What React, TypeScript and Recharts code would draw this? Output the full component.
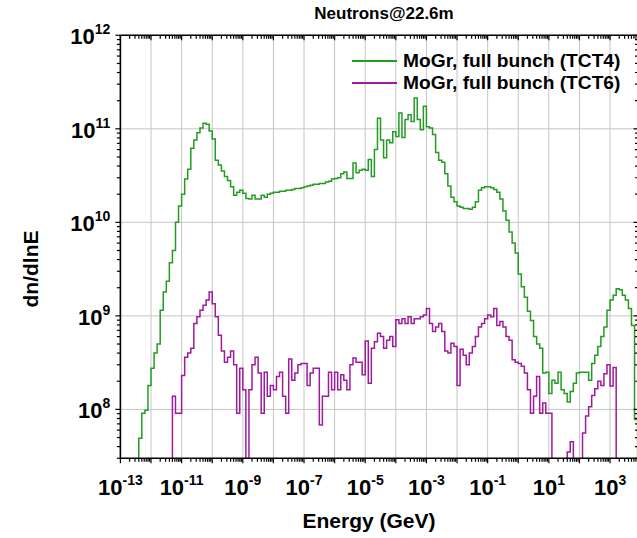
import { CartesianGrid, Legend, Line, LineChart, XAxis, YAxis } from "recharts";

// histogram binning: 10 bins per decade, edges on 0.1 steps of log10(E)
const BINS_PER_DECADE = 10;
const FIRST_EDGE = -13;
const LAST_EDGE = 4;

// MoGr, full bunch (TCT4): dn/dlnE per bin, first bin starts at 10^-12.4 GeV
const TCT4_START = -12.4;
const tct4 = [
  4.9e7, 9.1e7, 9.8e7, 1.8e8, 2.75e8, 4.0e8, 5.0e8, 1.15e9, 1.8e9, 2.35e9,
  3.7e9, 5.0e9, 1.0e10, 1.5e10, 2.0e10, 2.9e10, 3.7e10, 6.2e10, 7.6e10, 9.1e10,
  1.02e11, 1.15e11, 1.12e11, 9.5e10, 7.8e10, 4.6e10, 4.1e10, 3.55e10, 3.1e10, 2.8e10,
  2.4e10, 1.95e10, 2.1e10, 2.2e10, 2.05e10, 1.8e10, 1.78e10, 1.95e10, 1.78e10, 1.78e10,
  1.95e10, 1.86e10, 2.0e10, 2.05e10, 2.1e10, 2.1e10, 2.15e10, 2.15e10, 2.2e10, 2.2e10,
  2.25e10, 2.3e10, 2.3e10, 2.35e10, 2.4e10, 2.45e10, 2.5e10, 2.55e10, 2.55e10, 2.6e10,
  2.6e10, 2.7e10, 2.75e10, 2.9e10, 2.95e10, 3.0e10, 3.3e10, 3.45e10, 2.95e10, 2.95e10,
  4.3e10, 3.4e10, 3.6e10, 3.7e10, 3.6e10, 4.7e10, 3.1e10, 6.0e10, 1.3e11, 7.6e10,
  4.9e10, 7.6e10, 7.1e10, 9.3e10, 8.3e10, 1.48e11, 8.1e10, 1.26e11, 1.41e11, 1.2e11,
  2.14e11, 1.26e11, 9.8e10, 1.74e11, 1.05e11, 1.02e11, 8.7e10, 5.6e10, 4.6e10, 4.4e10,
  3.3e10, 2.45e10, 1.86e10, 1.66e10, 1.5e10, 1.45e10, 1.41e10, 1.41e10, 1.38e10, 1.45e10,
  1.66e10, 2.2e10, 2.35e10, 2.4e10, 2.4e10, 2.35e10, 2.25e10, 2.1e10, 1.78e10, 1.32e10,
  1.05e10, 7.9e9, 6.0e9, 4.7e9, 2.8e9, 2.05e9, 1.58e9, 1.12e9, 8.9e8, 6.0e8,
  5.0e8, 4.5e8, 2.45e8, 2.5e8, 1.48e8, 2.05e8, 1.9e8, 2.5e8, 1.62e8, 1.48e8,
  1.2e8, 1.55e8, 1.9e8, 2.45e8, 2.5e8, 2.5e8, 2.5e8, 2.05e8, 3.1e8, 3.8e8,
  4.7e8, 6.0e8, 7.6e8, 1.15e9, 1.48e9, 1.66e9, 1.95e9, 1.9e9, 1.66e9, 1.48e9,
  1.2e9, 7.9e8, 7.8e7,
];

// MoGr, full bunch (TCT6): first bin starts at 10^-11.3 GeV, 0 = empty bin
const TCT6_START = -11.3;
const tct6 = [
  1.38e8, 9.1e7, 9.1e7, 2.3e8, 3.6e8, 4.0e8, 4.5e8, 8.3e8, 9.8e8, 1.15e9,
  1.3e9, 1.48e9, 1.8e9, 1.35e9, 9.8e8, 6.2e8, 4.2e8, 3.2e8, 3.6e8, 4.2e8,
  3.0e8, 9.1e7, 2.75e8, 1.62e8, 0, 1.62e8, 3.0e8, 3.6e8, 2.45e8, 9.1e7,
  2.5e8, 1.38e8, 1.8e8, 1.62e8, 2.25e8, 2.5e8, 1.38e8, 9.1e7, 3.45e8, 2.05e8,
  2.45e8, 3.0e8, 3.1e8, 3.1e8, 1.8e8, 2.45e8, 2.75e8, 2.75e8, 6.8e7, 1.38e8,
  1.38e8, 2.5e8, 1.62e8, 2.5e8, 1.62e8, 2.35e8, 2.05e8, 1.62e8, 3.0e8, 3.55e8,
  3.2e8, 3.2e8, 2.35e8, 5.4e8, 1.9e8, 4.5e8, 5.3e8, 6.5e8, 6.0e8, 4.5e8,
  5.5e8, 6.0e8, 4.7e8, 9.1e8, 8.3e8, 9.3e8, 8.3e8, 9.8e8, 8.3e8, 9.3e8,
  9.3e8, 9.8e8, 1.02e9, 1.2e9, 8.3e8, 6.8e8, 7.6e8, 8.3e8, 6.8e8, 4.2e8,
  4.0e8, 5.1e8, 4.7e8, 1.8e8, 4.4e8, 3.8e8, 3.0e8, 4.0e8, 4.7e8, 6.0e8,
  7.6e8, 8.3e8, 9.3e8, 1.02e9, 9.8e8, 1.2e9, 7.9e8, 8.7e8, 7.6e8, 6.0e8,
  5.5e8, 3.4e8, 3.2e8, 3.1e8, 2.9e8, 2.45e8, 1.62e8, 9.1e7, 1.38e8, 2.25e8,
  9.1e7, 1.17e8, 9.1e7, 9.1e7, 0, 0, 0, 0, 0, 3.5e7,
  4.5e7, 0, 0, 0, 5.6e7, 8.5e7, 1.07e8, 1.41e8, 1.66e8, 2.0e8,
  1.8e8, 2.4e8, 3.0e8, 1.78e8, 2.8e8,
];

const xMajorTicks = [
  1e-13, 1e-12, 1e-11, 1e-10, 1e-9, 1e-8, 1e-7, 1e-6, 1e-5, 1e-4, 1e-3, 1e-2,
  1e-1, 1, 1e1, 1e2, 1e3,
];
const xLabelExps = [-13, -11, -9, -7, -5, -3, -1, 1, 3];
const yMajorTicks = [1e8, 1e9, 1e10, 1e11, 1e12];
const yLabelExps = [8, 9, 10, 11, 12];
const minorMults = [2, 3, 4, 5, 6, 7, 8, 9];

const X_DOMAIN: [number, number] = [1e-13, 8500];
const Y_DOMAIN: [number, number] = [3e7, 1e12];
const EMPTY = 1; // far below the y range, drawn as a drop to the axis

const xAllTicks = xMajorTicks
  .flatMap((d) => [d, ...minorMults.map((m) => m * d)])
  .filter((v) => v <= X_DOMAIN[1]);
const yAllTicks = [1e7, ...yMajorTicks]
  .flatMap((d) => [d, ...minorMults.map((m) => m * d)])
  .filter((v) => v >= Y_DOMAIN[0] && v <= Y_DOMAIN[1]);

const binValue = (arr: number[], start: number, edge: number) => {
  const i = Math.round((edge - start) * BINS_PER_DECADE);
  const v = arr[i];
  return v && v > 0 ? v : EMPTY;
};

const rows: { e: number; tct4: number; tct6: number }[] = [];
for (let k = 0; k <= (LAST_EDGE - FIRST_EDGE) * BINS_PER_DECADE; k++) {
  const edge = FIRST_EDGE + k / BINS_PER_DECADE;
  rows.push({
    e: Math.pow(10, edge),
    tct4: binValue(tct4, TCT4_START, edge),
    tct6: binValue(tct6, TCT6_START, edge),
  });
}

const GREEN = "#239c23";
const PURPLE = "#9e1a9e";
const FONT = "'Liberation Sans', Arial, sans-serif";
const AXIS_STROKE = { stroke: "#000", strokeWidth: 1.6 };
const MAJOR_LEN = 5;
const MINOR_LEN = 3.5;

const expOf = (v: number) => Math.round(Math.log10(v));
const isDecade = (v: number) =>
  Math.abs(Math.log10(v) - Math.round(Math.log10(v))) < 1e-6;

const Sup = ({ exp }: { exp: number }) => (
  <>
    <tspan>10</tspan>
    <tspan dy={-10} fontSize={14}>
      {exp}
    </tspan>
  </>
);

// side: direction the tick line points from the axis
const makeTick =
  (side: "down" | "left", labels: number[] | null) => (props: any) => {
    const { x, y, payload } = props;
    const major = isDecade(payload.value);
    const len = major ? MAJOR_LEN : MINOR_LEN;
    const exp = expOf(payload.value);
    const showLabel = major && labels && labels.includes(exp);
    return (
      <g>
        <line
          x1={x}
          y1={y}
          x2={side === "left" ? x - len : x}
          y2={side === "down" ? y + len : y}
          stroke="#000"
          strokeWidth={1.2}
        />
        {showLabel && side === "down" && (
          <text
            x={x}
            y={y + 37}
            textAnchor="middle"
            fontFamily={FONT}
            fontWeight="bold"
            fontSize={22}
            fill="#000"
          >
            <Sup exp={exp} />
          </text>
        )}
        {showLabel && side === "left" && (
          <text
            x={x - 10}
            y={y + 9}
            textAnchor="end"
            fontFamily={FONT}
            fontWeight="bold"
            fontSize={22}
            fill="#000"
          >
            <Sup exp={exp} />
          </text>
        )}
      </g>
    );
  };

const BottomTick = makeTick("down", xLabelExps);
const TopTick = makeTick("down", null);
const LeftTick = makeTick("left", yLabelExps);
const RightTick = makeTick("left", null);

const legendItems = [
  { label: "MoGr, full bunch (TCT4)", color: GREEN },
  { label: "MoGr, full bunch (TCT6)", color: PURPLE },
];

const LegendBox = () => (
  <div style={{ fontFamily: FONT, fontWeight: "bold", fontSize: 19.2 }}>
    {legendItems.map((it) => (
      <div
        key={it.label}
        style={{ display: "flex", alignItems: "center", height: 22 }}
      >
        <span
          style={{
            display: "inline-block",
            width: 45,
            height: 2,
            background: it.color,
            marginRight: 6,
          }}
        />
        <span style={{ color: "#000", whiteSpace: "nowrap" }}>{it.label}</span>
      </div>
    ))}
  </div>
);

const logX = {
  dataKey: "e",
  type: "number" as const,
  scale: "log" as const,
  domain: X_DOMAIN,
  allowDataOverflow: true,
  interval: 0 as const,
  tickSize: 0,
  tickMargin: 0,
  tickLine: false,
  ticks: xAllTicks,
  axisLine: AXIS_STROKE,
};

const logY = {
  type: "number" as const,
  scale: "log" as const,
  domain: Y_DOMAIN,
  allowDataOverflow: true,
  interval: 0 as const,
  tickSize: 0,
  tickMargin: 0,
  tickLine: false,
  ticks: yAllTicks,
  axisLine: AXIS_STROKE,
};

export default function App() {
  return (
    <div
      style={{
        position: "fixed",
        left: 0,
        top: 0,
        width: 637,
        height: 538,
        overflow: "hidden",
        background: "#fff",
      }}
    >
      <div
        style={{
          position: "absolute",
          left: 0,
          top: 4,
          width: 768,
          textAlign: "center",
          fontFamily: FONT,
          fontWeight: "bold",
          fontSize: 17,
        }}
      >
        Neutrons@22.6m
      </div>
      <div
        style={{
          position: "absolute",
          left: 31,
          top: 269,
          transform: "translate(-50%, -50%) rotate(-90deg)",
          fontFamily: FONT,
          fontWeight: "bold",
          fontSize: 21,
          whiteSpace: "nowrap",
        }}
      >
        dn/dlnE
      </div>
      <div
        style={{
          position: "absolute",
          left: 0,
          top: 509,
          width: 738,
          textAlign: "center",
          fontFamily: FONT,
          fontWeight: "bold",
          fontSize: 21,
        }}
      >
        Energy (GeV)
      </div>
      <LineChart
        width={640}
        height={538}
        data={rows}
        margin={{ top: 35.3, right: 1.5, bottom: 49.7, left: 60.4 }}
      >
        <CartesianGrid
          verticalValues={xMajorTicks}
          horizontalValues={yMajorTicks}
          stroke="#c6c6c6"
          strokeWidth={1}
        />
        <XAxis {...logX} height={30} tick={BottomTick} />
        <XAxis
          {...logX}
          xAxisId="top"
          orientation="top"
          mirror
          height={1}
          tick={TopTick}
        />
        <YAxis {...logY} width={60} tick={LeftTick} />
        <YAxis
          {...logY}
          yAxisId="right"
          orientation="right"
          mirror
          width={1}
          tick={RightTick}
        />
        <Legend
          layout="vertical"
          align="center"
          verticalAlign="middle"
          wrapperStyle={{ left: 352, top: 50, width: 290 }}
          content={() => <LegendBox />}
        />
        <Line
          type="stepAfter"
          dataKey="tct4"
          name="MoGr, full bunch (TCT4)"
          stroke={GREEN}
          strokeWidth={1.5}
          dot={false}
          activeDot={false}
          isAnimationActive={false}
        />
        <Line
          type="stepAfter"
          dataKey="tct6"
          name="MoGr, full bunch (TCT6)"
          stroke={PURPLE}
          strokeWidth={1.5}
          dot={false}
          activeDot={false}
          isAnimationActive={false}
        />
      </LineChart>
    </div>
  );
}
